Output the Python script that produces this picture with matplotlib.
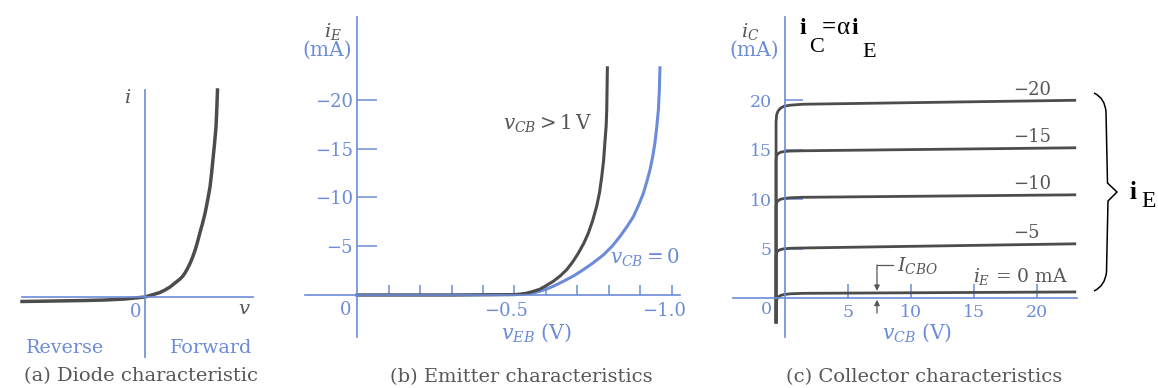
import matplotlib.pyplot as plt
from matplotlib.path import Path
from matplotlib.patches import PathPatch
from matplotlib.transforms import ScaledTranslation

plt.rcParams['font.family'] = ['DejaVu Serif']
plt.rcParams['mathtext.fontset'] = 'dejavuserif'

W, H = 1158, 388
BLUE = '#6c8bd8'
GRAY = '#4c4c4c'
TXT = '#575757'

# (a) diode i-v curve (arbitrary units)
diode_v = [-1.23, -0.9, -0.6, -0.4, -0.2, -0.1, 0.0, 0.1, 0.15, 0.2, 0.25,
           0.3, 0.35, 0.375, 0.4, 0.425, 0.45, 0.475, 0.5, 0.525, 0.55,
           0.575, 0.6, 0.625, 0.65, 0.665, 0.68, 0.695, 0.71, 0.718, 0.725]
diode_i = [-0.045, -0.04, -0.035, -0.03, -0.02, -0.01, 0.0, 0.03, 0.045,
           0.07, 0.10, 0.14, 0.18, 0.205, 0.24, 0.285, 0.335, 0.395, 0.465,
           0.55, 0.645, 0.735, 0.835, 0.96, 1.10, 1.23, 1.38, 1.53, 1.70,
           1.88, 2.07]

# (b) emitter characteristics, v_EB in V, i_E in mA
veb_sat = [0.0, -0.3, -0.5, -0.52, -0.539, -0.56, -0.581, -0.60, -0.623,
           -0.645, -0.666, -0.685, -0.703, -0.72, -0.734, -0.748, -0.761,
           -0.770, -0.777, -0.783, -0.787, -0.791, -0.793, -0.795]
ie_sat = [0.0, 0.0, -0.05, -0.1, -0.2, -0.38, -0.6, -0.95, -1.4, -1.95, -2.6,
          -3.4, -4.3, -5.3, -6.3, -7.6, -9.1, -10.5, -12.1, -13.8, -15.6,
          -17.3, -19.0, -23.3]
veb_zero = [0.0, -0.3, -0.5, -0.52, -0.56, -0.58, -0.602, -0.63, -0.655,
            -0.69, -0.719, -0.75, -0.782, -0.81, -0.835, -0.857, -0.877,
            -0.894, -0.909, -0.920, -0.930, -0.939, -0.946, -0.952, -0.957,
            -0.960, -0.962]
ie_zero = [0.0, 0.0, -0.03, -0.06, -0.2, -0.38, -0.6, -1.0, -1.4, -2.0, -2.6,
           -3.3, -4.1, -5.0, -6.0, -7.0, -8.0, -9.2, -10.4, -11.6, -12.8,
           -14.2, -15.6, -17.3, -19.0, -21.0, -23.3]
emit_yticks = [-20, -15, -10, -5]
emit_ylabels = ['\u221220', '\u221215', '\u221210', '\u22125']
emit_xticks = [-0.1, -0.2, -0.3, -0.4, -0.5, -0.6, -0.7, -0.8, -0.9, -1.0]
emit_xlabels = ['', '', '', '', '\u22120.5', '', '', '', '', '\u22121.0']

# (c) collector characteristics, v_CB in V, i_C in mA
vcb = [-0.71, -0.71, -0.67, -0.56, -0.36, -0.08, 0.4, 1.4, 23.0]
ic_ie0 = [-2.4, -0.85, -0.2, 0.1, 0.28, 0.38, 0.45, 0.5, 0.64]
ic_ie5 = [-2.4, 4.2, 4.6, 4.8, 4.92, 5.0, 5.05, 5.08, 5.5]
ic_ie10 = [-2.4, 9.25, 9.65, 9.85, 10.0, 10.08, 10.15, 10.2, 10.45]
ic_ie15 = [-2.4, 14.0, 14.4, 14.6, 14.75, 14.82, 14.87, 14.9, 15.2]
ic_ie20 = [-2.4, 17.8, 18.5, 18.9, 19.2, 19.4, 19.5, 19.6, 20.0]
ie_labels = ['\u22125', '\u221210', '\u221215', '\u221220']
coll_xticks = [5, 10, 15, 20]
coll_yticks = [5, 10, 15, 20]

fig = plt.figure(figsize=(W / 100, H / 100), dpi=100)


def px_axes(x0, y0, x1, y1, xlim, ylim):
    ax = fig.add_axes([x0 / W, 1 - y1 / H, (x1 - x0) / W, (y1 - y0) / H])
    ax.set_xlim(xlim)
    ax.set_ylim(ylim)
    ax.patch.set_visible(False)
    return ax


def axis_lines(ax, xb, yb):
    ax.spines['top'].set_visible(False)
    ax.spines['right'].set_visible(False)
    ax.spines['left'].set_position(('data', 0))
    ax.spines['bottom'].set_position(('data', 0))
    ax.spines['left'].set_bounds(*yb)
    ax.spines['bottom'].set_bounds(*xb)
    for side in ('left', 'bottom'):
        ax.spines[side].set_color(BLUE)
        ax.spines[side].set_linewidth(1.2)


def ftext(x, y, s, **kw):
    kw.setdefault('ha', 'center')
    kw.setdefault('va', 'center')
    fig.text(x / W, 1 - y / H, s, **kw)


# ---- (a) diode ----
ax = px_axes(0, 60, 290, 370, (-1.45, 1.45), (-0.73, 2.37))
axis_lines(ax, (-1.23, 1.08), (-0.6, 2.07))
ax.set_xticks([])
ax.set_yticks([])
ax.plot(diode_v, diode_i, color=GRAY, lw=2.5, clip_on=False,
        solid_joinstyle='round')
ftext(128, 98, '$i$', color=TXT, fontsize=14)
ftext(136, 312, '0', color=BLUE, fontsize=13)
ftext(244, 309, '$v$', color=TXT, fontsize=14)
ftext(65, 348, 'Reverse', color=BLUE, fontsize=13.8)
ftext(211, 348, 'Forward', color=BLUE, fontsize=13.8)
ftext(141, 376, '(a) Diode characteristic', color=TXT, fontsize=14)

# ---- (b) emitter ----
ax = px_axes(295, 10, 705, 345, (0.197, -1.105), (5.13, -29.23))
axis_lines(ax, (-1.025, 0.165), (-28.5, 4.3))
ax.set_yticks(emit_yticks, emit_ylabels)
ax.tick_params(axis='y', direction='in', length=14.4, width=1.1, color=BLUE,
               labelcolor=BLUE, labelsize=13, pad=3)
ax.set_xticks(emit_xticks, emit_xlabels)
ax.tick_params(axis='x', direction='in', length=7.2, width=1.1, color=BLUE,
               labelcolor=BLUE, labelsize=13, pad=5)
shift = ScaledTranslation(-8 / 100, 0, fig.dpi_scale_trans)
for lbl in ax.get_xticklabels():
    lbl.set_transform(lbl.get_transform() + shift)
ax.plot(veb_zero, ie_zero, color=BLUE, lw=2.2, clip_on=False,
        solid_joinstyle='round')
ax.plot(veb_sat, ie_sat, color=GRAY, lw=2.2, clip_on=False,
        solid_joinstyle='round')
ax.text(-0.606, -17.6, r'$v_{CB} > 1\,\mathrm{V}$', color=TXT, fontsize=14.3,
        ha='center', va='center')
ax.text(-0.914, -3.8, r'$v_{CB} = 0$', color=BLUE, fontsize=14.3,
        ha='center', va='center')
ax.text(-0.571, 3.9, r'$v_{EB}$ (V)', color=BLUE, fontsize=14.8,
        ha='center', va='center')
ftext(346, 310, '0', color=BLUE, fontsize=13)
ftext(333, 32, '$i_E$', color=TXT, fontsize=14)
ftext(327, 50, '(mA)', color=BLUE, fontsize=14.5)
ftext(521, 377, '(b) Emitter characteristics', color=TXT, fontsize=14)

# ---- (c) collector ----
ax = px_axes(720, 10, 1085, 345, (-5.16, 23.81), (-4.72, 29.12))
axis_lines(ax, (-4.13, 23.17), (-3.9, 28.4))
ax.set_yticks(coll_yticks, [str(t) for t in coll_yticks])
ax.tick_params(axis='y', direction='in', length=13, width=1.1, color=BLUE,
               labelcolor=BLUE, labelsize=12.5, pad=9.4)
ax.set_xticks(coll_xticks, [str(t) for t in coll_xticks])
ax.tick_params(axis='x', direction='in', length=10, width=1.1, color=BLUE,
               labelcolor=BLUE, labelsize=12.5, pad=4)
for ic in (ic_ie0, ic_ie5, ic_ie10, ic_ie15, ic_ie20):
    ax.plot(vcb, ic, color=GRAY, lw=2.0, clip_on=False, solid_joinstyle='round')
for ic, lab in zip((ic_ie5, ic_ie10, ic_ie15, ic_ie20), ie_labels):
    ax.text(18.1, ic[-1] + 1.05, lab, color=TXT, fontsize=13,
            ha='left', va='center')
ax.text(14.9, 2.15, r'$i_E$ = 0 mA', color=TXT, fontsize=13.5,
        ha='left', va='center')
ax.text(8.9, 3.3, r'$I_{CBO}$', color=TXT, fontsize=14, ha='left', va='center')
ax.plot([8.6, 7.3], [3.36, 3.36], color=TXT, lw=0.9)
arrow = dict(arrowstyle='-|>', color=TXT, lw=0.9, mutation_scale=8,
             shrinkA=0, shrinkB=0)
ax.annotate('', xy=(7.3, 0.75), xytext=(7.3, 3.36), arrowprops=arrow)
ax.annotate('', xy=(7.3, -0.15), xytext=(7.3, -1.5), arrowprops=arrow,
            annotation_clip=False)
ax.text(10.5, -3.5, r'$v_{CB}$ (V)', color=BLUE, fontsize=14.5,
        ha='center', va='center')
ftext(766, 309, '0', color=BLUE, fontsize=12.5)
ftext(750, 31, '$i_C$', color=TXT, fontsize=14)
ftext(754, 50, '(mA)', color=BLUE, fontsize=14.5)
ftext(924, 377, '(c) Collector characteristics', color=TXT, fontsize=14)

# ---- i_C = alpha i_E and the brace over the emitter currents ----
black = dict(color='black', family=['Liberation Serif'], ha='left', va='baseline')
ftext(799, 34, 'i', fontsize=17, weight='bold', **black)
ftext(809, 52, 'C', fontsize=16, **black)
ftext(822, 34, '=', fontsize=18, weight='bold', **black)
ftext(837, 34, '\u03b1', fontsize=18, **black)
ftext(851, 34, 'i', fontsize=17, weight='bold', **black)
ftext(862, 57, 'E', fontsize=16, **black)
ftext(1130, 199, 'i', fontsize=18, weight='bold', **black)
ftext(1141, 207, 'E', fontsize=17, **black)

pts = [(1094, 93), (1105, 98), (1106, 112), (1107.5, 183), (1117, 192),
       (1108, 201), (1106.5, 272), (1105, 286), (1094, 291)]
codes = [Path.MOVETO, Path.CURVE3, Path.CURVE3, Path.LINETO, Path.LINETO,
         Path.LINETO, Path.LINETO, Path.CURVE3, Path.CURVE3]
brace = Path([(x / W, 1 - y / H) for x, y in pts], codes)
fig.patches.append(PathPatch(brace, transform=fig.transFigure, fill=False,
                             edgecolor='black', lw=1.1))

fig.savefig('out.png', dpi=100)
